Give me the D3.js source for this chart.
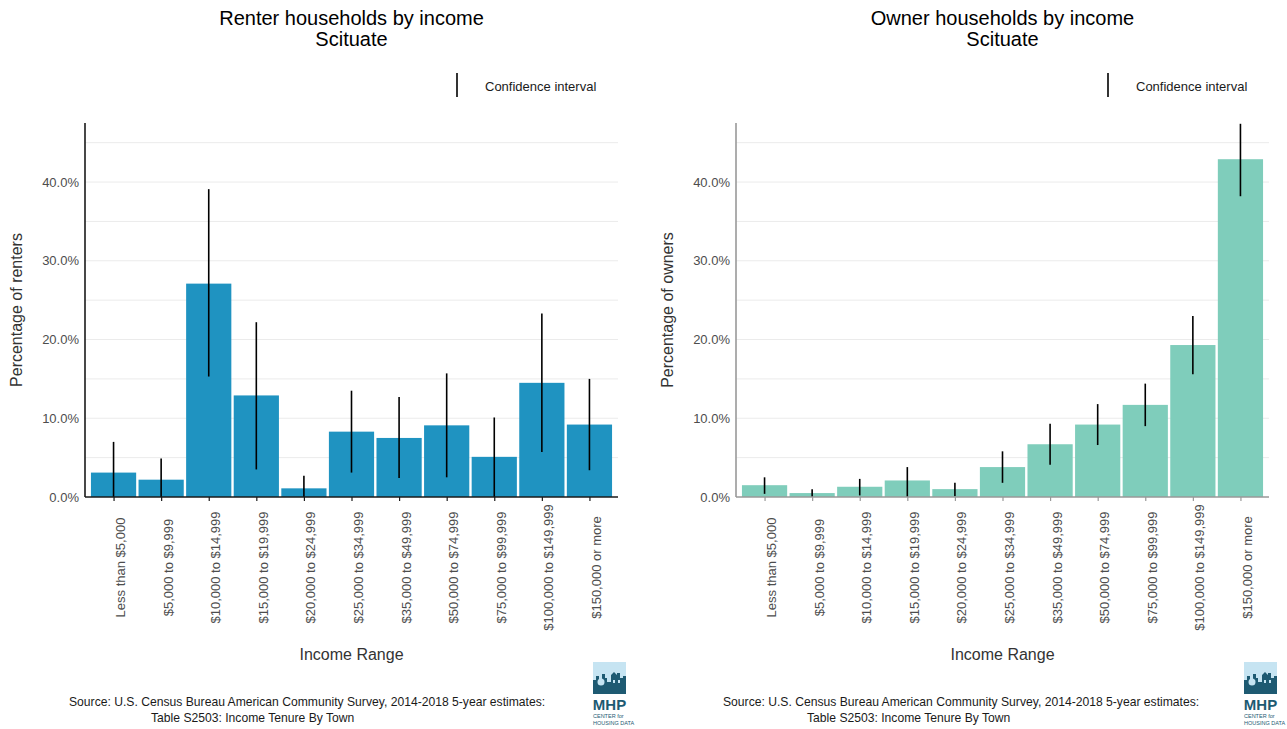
<!DOCTYPE html>
<html>
<head>
<meta charset="utf-8">
<script src="https://cdn.jsdelivr.net/npm/d3@7"></script>
<style>
  html, body { margin: 0; padding: 0; background: #fff; }
  svg { display: block; font-family: "Liberation Sans", Arial, Helvetica, sans-serif; }
</style>
</head>
<body>
<svg id="chart" width="1287" height="729"></svg>
<script>
// Household income ranges (ACS 2014-2018, Scituate)
const categories = [
  "Less than $5,000", "$5,000 to $9,999", "$10,000 to $14,999", "$15,000 to $19,999",
  "$20,000 to $24,999", "$25,000 to $34,999", "$35,000 to $49,999", "$50,000 to $74,999",
  "$75,000 to $99,999", "$100,000 to $149,999", "$150,000 or more"
];

// Renter households: share (%) with lower / upper confidence bounds
const renterPct  = [3.1, 2.2, 27.1, 12.9, 1.1, 8.3, 7.5, 9.1, 5.1, 14.5, 9.2];
const renterLow  = [0, 0, 15.3, 3.5, 0, 3.1, 2.4, 2.5, 0, 5.7, 3.4];
const renterHigh = [7.0, 4.9, 39.1, 22.2, 2.7, 13.5, 12.7, 15.7, 10.1, 23.3, 15.0];

// Owner households: share (%) with lower / upper confidence bounds
const ownerPct  = [1.5, 0.5, 1.3, 2.1, 1.0, 3.8, 6.7, 9.2, 11.7, 19.3, 42.9];
const ownerLow  = [0.4, 0, 0.2, 0, 0.1, 1.8, 4.1, 6.6, 9.0, 15.6, 38.2];
const ownerHigh = [2.5, 1.0, 2.3, 3.8, 1.8, 5.8, 9.3, 11.8, 14.4, 23.0, 47.4];

const yTicks = [0, 10, 20, 30, 40];
const yGrid = [5, 10, 15, 20, 25, 30, 35, 40, 45];

const sourceLines = [
  "Source: U.S. Census Bureau American Community Survey, 2014-2018 5-year estimates:",
  "Table S2503: Income Tenure By Town"
];

const svg = d3.select("#chart");

function panel(opts) {
  const g = svg.append("g").attr("transform", `translate(${opts.x0},0)`);
  const left = 0, right = 533, top = 123, bottom = 497;
  const cx = (left + right) / 2;

  const x = d3.scalePoint().domain(categories).range([left, right]).padding(0.6);
  const bw = x.step() * 0.95;
  const y = d3.scaleLinear().domain([0, 47.5]).range([bottom, top]);

  // titles
  g.append("text").attr("x", cx).attr("y", 25).attr("text-anchor", "middle")
    .attr("font-size", 20).attr("fill", "#000").text(opts.title);
  g.append("text").attr("x", cx).attr("y", 46).attr("text-anchor", "middle")
    .attr("font-size", 20).attr("fill", "#000").text("Scituate");

  // legend
  const lg = g.append("g").attr("transform", `translate(${opts.legendX},0)`);
  lg.append("line").attr("x1", 0).attr("x2", 0).attr("y1", 73).attr("y2", 97)
    .attr("stroke", "#000").attr("stroke-width", 1.6);
  lg.append("text").attr("x", 28).attr("y", 86).attr("dominant-baseline", "central")
    .attr("font-size", 13).attr("fill", "#1a1a1a").text("Confidence interval");

  // gridlines
  g.append("g").selectAll("line").data(yGrid).join("line")
    .attr("x1", left).attr("x2", right)
    .attr("y1", d => y(d)).attr("y2", d => y(d))
    .attr("stroke", "#ebebeb").attr("stroke-width", 1);

  // y axis labels
  const yAxis = d3.axisLeft(y).tickValues(yTicks).tickSize(0).tickPadding(6)
    .tickFormat(d => d.toFixed(1) + "%");
  const ya = g.append("g").attr("transform", `translate(${left},0)`).call(yAxis);
  ya.select(".domain").remove();
  ya.selectAll("text").attr("font-size", 13).attr("fill", "#4d4d4d")
    .attr("font-family", "Liberation Sans, Arial, sans-serif");

  // bars
  g.append("g").selectAll("rect").data(opts.pct).join("rect")
    .attr("x", (d, i) => x(categories[i]) - bw / 2)
    .attr("width", bw)
    .attr("y", d => y(d))
    .attr("height", d => y(0) - y(d))
    .attr("fill", opts.color);

  // confidence intervals
  g.append("g").selectAll("line").data(opts.pct).join("line")
    .attr("x1", (d, i) => x(categories[i])).attr("x2", (d, i) => x(categories[i]))
    .attr("y1", (d, i) => y(opts.low[i])).attr("y2", (d, i) => y(opts.high[i]))
    .attr("stroke", "#000").attr("stroke-width", 1.6);

  // x axis: vertical labels centred below each tick
  const xAxis = d3.axisBottom(x).tickSize(4).tickPadding(4);
  const xa = g.append("g").attr("transform", `translate(0,${bottom})`).call(xAxis);
  xa.select(".domain").remove();
  xa.selectAll(".tick line").attr("stroke", opts.axisColor).attr("stroke-width", 1.2);
  xa.selectAll("text")
    .attr("font-size", 13).attr("fill", "#4d4d4d")
    .attr("font-family", "Liberation Sans, Arial, sans-serif")
    .attr("text-anchor", "middle")
    .attr("dy", null)
    .attr("transform", "rotate(-90)")
    .attr("x", -70.5).attr("y", 11);

  // axis lines
  g.append("line").attr("x1", left).attr("x2", right).attr("y1", bottom).attr("y2", bottom)
    .attr("stroke", opts.axisColor).attr("stroke-width", 1.6);
  g.append("line").attr("x1", left).attr("x2", left).attr("y1", top).attr("y2", bottom)
    .attr("stroke", opts.axisColor).attr("stroke-width", 1.6);

  // axis titles
  g.append("text").attr("x", cx).attr("y", 654).attr("text-anchor", "middle")
    .attr("dominant-baseline", "central")
    .attr("font-size", 16).attr("fill", "#333").text("Income Range");
  g.append("text").attr("transform", `translate(${-69},${(top + bottom) / 2}) rotate(-90)`)
    .attr("text-anchor", "middle").attr("dominant-baseline", "central")
    .attr("font-size", 16).attr("fill", "#333").text(opts.yTitle);

  // source note
  g.append("text").attr("x", opts.srcX[0]).attr("y", 706).attr("font-size", 12.15).attr("fill", "#1a1a1a")
    .text(sourceLines[0]);
  g.append("text").attr("x", opts.srcX[1]).attr("y", 722).attr("font-size", 12.15).attr("fill", "#1a1a1a")
    .text(sourceLines[1]);

  // MHP logo
  const logo = g.append("g").attr("transform", "translate(508,662)");
  logo.append("rect").attr("width", 33).attr("height", 32).attr("fill", "#c6e4f2");
  const sky = "M0,32 L0,18 L3,18 L3,14 L6,14 L6,17 L9,17 L9,12 L12,12 L12,16 L14,16 L14,20 L18,20 L18,13 L21,10 L24,13 L24,11 L27,11 L27,16 L30,16 L30,14 L33,14 L33,32 Z";
  logo.append("path").attr("d", sky).attr("fill", "#1e5a72");
  logo.append("circle").attr("cx", 8).attr("cy", 20).attr("r", 3.5).attr("fill", "#c6e4f2");
  logo.append("rect").attr("x", 20).attr("y", 18).attr("width", 2).attr("height", 3).attr("fill", "#c6e4f2");
  logo.append("rect").attr("x", 25).attr("y", 18).attr("width", 2).attr("height", 3).attr("fill", "#c6e4f2");
  logo.append("text").attr("x", 16.5).attr("y", 48).attr("text-anchor", "middle")
    .attr("font-size", 15).attr("font-weight", "bold").attr("fill", "#1e5a72").text("MHP");
  logo.append("text").attr("x", 0).attr("y", 56).attr("font-size", 5.5).attr("fill", "#1e5a72")
    .text("CENTER for");
  logo.append("text").attr("x", 0).attr("y", 63).attr("font-size", 5.5).attr("fill", "#1e5a72")
    .text("HOUSING DATA");
}

panel({
  x0: 85, title: "Renter households by income", yTitle: "Percentage of renters",
  pct: renterPct, low: renterLow, high: renterHigh,
  color: "#1f93c1", axisColor: "#1a1a1a", legendX: 372, srcX: [-16, 66]
});
panel({
  x0: 736, title: "Owner households by income", yTitle: "Percentage of owners",
  pct: ownerPct, low: ownerLow, high: ownerHigh,
  color: "#7fcdbb", axisColor: "#999999", legendX: 372, srcX: [-13, 71]
});
</script>
</body>
</html>
